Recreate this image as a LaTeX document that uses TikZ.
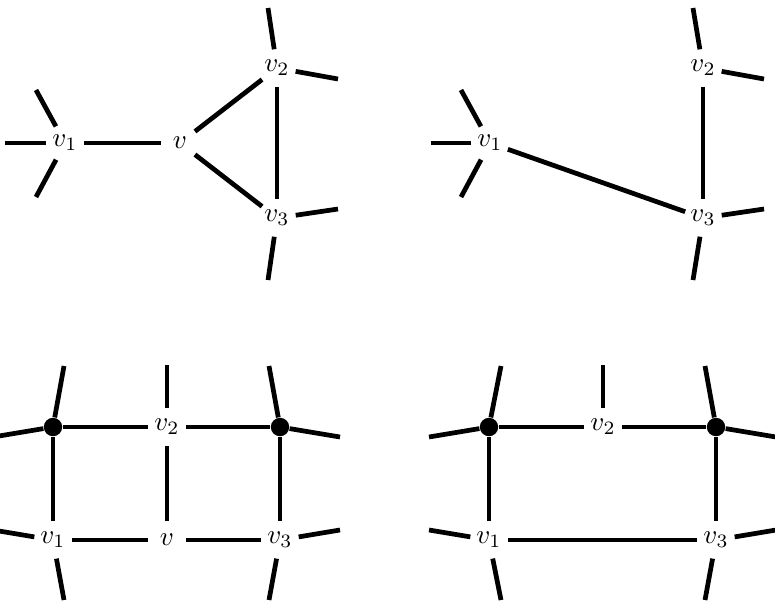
\documentclass[tikz,border=0pt]{standalone}
\usepackage{amsmath}
\usepackage{tikz}

\begin{document}
\begin{tikzpicture}[
  x=0.013cm, y=-0.013cm,
  vtx/.style={circle, inner sep=0pt, minimum size=13.6pt},
  blob/.style={circle, fill, inner sep=0pt, minimum size=6.8pt},
  ln/.style={line width=1.75pt}
]
  \clip (0,0) rectangle (775,604);

  % top left
  \node[vtx] (a1) at (65,143)  {$v_1$};
  \node[vtx] (av) at (180,143) {$v$};
  \node[vtx] (a2) at (277,68)  {$v_2$};
  \node[vtx] (a3) at (277,218) {$v_3$};
  \coordinate (a1l) at (5,143);   \coordinate (a1u) at (36,90);
  \coordinate (a1d) at (36,197);  \coordinate (a2u) at (268,8);
  \coordinate (a2r) at (338,79);  \coordinate (a3r) at (338,209);
  \coordinate (a3d) at (268,280);
  \draw[ln] (a1) -- (av);
  \draw[ln] (av) -- (a2);
  \draw[ln] (av) -- (a3);
  \draw[ln] (a2) -- (a3);
  \draw[ln] (a1) -- (a1l);
  \draw[ln] (a1) -- (a1u);
  \draw[ln] (a1) -- (a1d);
  \draw[ln] (a2) -- (a2u);
  \draw[ln] (a2) -- (a2r);
  \draw[ln] (a3) -- (a3r);
  \draw[ln] (a3) -- (a3d);

  % top right
  \node[vtx] (b1) at (490,143) {$v_1$};
  \node[vtx] (b2) at (703,68)  {$v_2$};
  \node[vtx] (b3) at (703,218) {$v_3$};
  \coordinate (b1l) at (431,143); \coordinate (b1u) at (461,90);
  \coordinate (b1d) at (461,197); \coordinate (b2u) at (693,8);
  \coordinate (b2r) at (764,79);  \coordinate (b3r) at (764,209);
  \coordinate (b3d) at (693,280);
  \draw[ln] (b1) -- (b3);
  \draw[ln] (b2) -- (b3);
  \draw[ln] (b1) -- (b1l);
  \draw[ln] (b1) -- (b1u);
  \draw[ln] (b1) -- (b1d);
  \draw[ln] (b2) -- (b2u);
  \draw[ln] (b2) -- (b2r);
  \draw[ln] (b3) -- (b3r);
  \draw[ln] (b3) -- (b3d);

  % bottom left
  \node[blob] (cx) at (53,427)  {};
  \node[blob] (cy) at (280,427) {};
  \node[vtx]  (c2) at (167,427) {$v_2$};
  \node[vtx]  (c1) at (53,540)  {$v_1$};
  \node[vtx]  (cv) at (167,540) {$v$};
  \node[vtx]  (c3) at (280,540) {$v_3$};
  \coordinate (cxu) at (64,366);  \coordinate (cxl) at (-7,437);
  \coordinate (cyu) at (269,366); \coordinate (cyr) at (340,437);
  \coordinate (c2u) at (167,365); \coordinate (c1l) at (-7,530);
  \coordinate (c1d) at (64,600);  \coordinate (c3r) at (340,530);
  \coordinate (c3d) at (269,600);
  \draw[ln] (cx) -- (c2);
  \draw[ln] (c2) -- (cy);
  \draw[ln] (cx) -- (c1);
  \draw[ln] (c2) -- (cv);
  \draw[ln] (cy) -- (c3);
  \draw[ln] (c1) -- (cv);
  \draw[ln] (cv) -- (c3);
  \draw[ln] (cx) -- (cxu);
  \draw[ln] (cx) -- (cxl);
  \draw[ln] (cy) -- (cyu);
  \draw[ln] (cy) -- (cyr);
  \draw[ln] (c2) -- (c2u);
  \draw[ln] (c1) -- (c1l);
  \draw[ln] (c1) -- (c1d);
  \draw[ln] (c3) -- (c3r);
  \draw[ln] (c3) -- (c3d);

  % bottom right
  \node[blob] (dx) at (489,427) {};
  \node[blob] (dy) at (716,427) {};
  \node[vtx]  (d2) at (603,427) {$v_2$};
  \node[vtx]  (d1) at (489,540) {$v_1$};
  \node[vtx]  (d3) at (716,540) {$v_3$};
  \coordinate (dxu) at (501,366); \coordinate (dxl) at (429,437);
  \coordinate (dyu) at (705,366); \coordinate (dyr) at (776,437);
  \coordinate (d2u) at (603,365); \coordinate (d1l) at (429,530);
  \coordinate (d1d) at (501,600); \coordinate (d3r) at (776,530);
  \coordinate (d3d) at (705,600);
  \draw[ln] (dx) -- (d2);
  \draw[ln] (d2) -- (dy);
  \draw[ln] (dx) -- (d1);
  \draw[ln] (dy) -- (d3);
  \draw[ln] (d1) -- (d3);
  \draw[ln] (dx) -- (dxu);
  \draw[ln] (dx) -- (dxl);
  \draw[ln] (dy) -- (dyu);
  \draw[ln] (dy) -- (dyr);
  \draw[ln] (d2) -- (d2u);
  \draw[ln] (d1) -- (d1l);
  \draw[ln] (d1) -- (d1d);
  \draw[ln] (d3) -- (d3r);
  \draw[ln] (d3) -- (d3d);
\end{tikzpicture}
\end{document}
